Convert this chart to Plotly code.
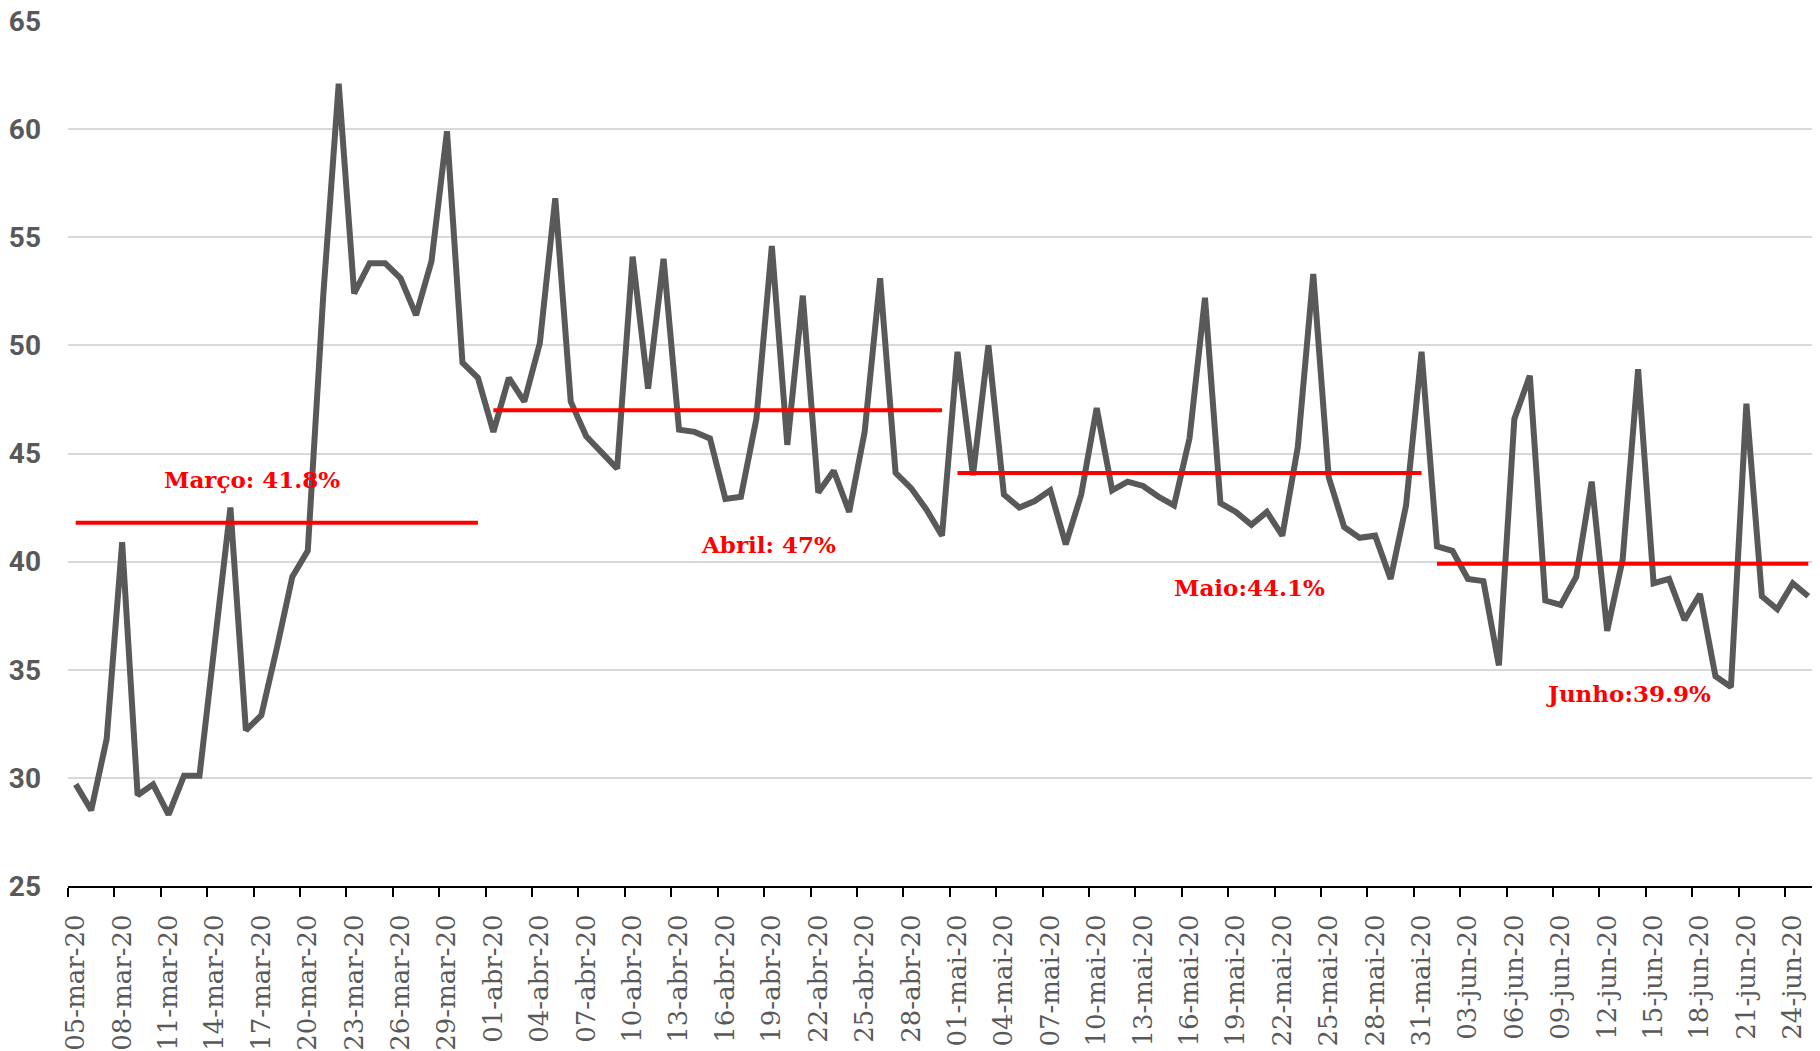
import plotly.graph_objects as go

# Category labels: daily dates from 05-mar-20 to 25-jun-20
months = [("mar", 5, 31), ("abr", 1, 30), ("mai", 1, 31), ("jun", 1, 25)]
dates = [f"{d:02d}-{m}-20" for m, a, b in months for d in range(a, b + 1)]

# Daily values (%)
marco = [29.7, 28.5, 31.8, 40.9, 29.2, 29.7, 28.3, 30.1, 30.1, 36.1, 42.5, 32.2, 32.9, 36.0,
         39.3, 40.5, 52.3, 62.1, 52.4, 53.8, 53.8, 53.1, 51.4, 53.9, 59.9, 49.2, 48.5]
abril = [46.0, 48.5, 47.4, 50.1, 56.8, 47.4, 45.8, 45.0, 44.3, 54.1, 48.0, 54.0, 46.1, 46.0,
         45.7, 42.9, 43.0, 46.6, 54.6, 45.4, 52.3, 43.2, 44.2, 42.3, 46.0, 53.1, 44.1, 43.4,
         42.4, 41.2]
maio = [49.7, 44.0, 50.0, 43.1, 42.5, 42.8, 43.3, 40.8, 43.1, 47.1, 43.3, 43.7, 43.5, 43.0,
        42.6, 45.7, 52.2, 42.7, 42.3, 41.7, 42.3, 41.2, 45.3, 53.3, 43.9, 41.6, 41.1, 41.2,
        39.2, 42.6, 49.7]
junho = [40.7, 40.5, 39.2, 39.1, 35.2, 46.6, 48.6, 38.2, 38.0, 39.3, 43.7, 36.8, 40.1, 48.9,
         39.0, 39.2, 37.3, 38.5, 34.7, 34.2, 47.3, 38.4, 37.8, 39.0, 38.4]

month_series = [marco, abril, maio, junho]
month_avg = [41.8, 47.0, 44.1, 39.9]
month_labels = ["Março: 41.8%", "Abril: 47%", "Maio:44.1%", "Junho:39.9%"]
label_pos = [(11.4, 43.8), (44.8, 40.8), (75.9, 38.8), (100.4, 33.9)]

values = [v for s in month_series for v in s]
x = list(range(len(dates)))

fig = go.Figure()
fig.add_trace(go.Scatter(x=x, y=values, mode="lines",
                         line=dict(color="#595959", width=6), hoverinfo="skip",
                         showlegend=False))

start = 0
for s, avg in zip(month_series, month_avg):
    end = start + len(s) - 1
    fig.add_trace(go.Scatter(x=[x[start], x[end]], y=[avg, avg], mode="lines",
                             line=dict(color="#ff0000", width=4), showlegend=False,
                             hoverinfo="skip"))
    start = end + 1

for txt, (ax, ay) in zip(month_labels, label_pos):
    fig.add_annotation(x=ax, y=ay, xref="x", yref="y", text=txt, showarrow=False,
                       font=dict(family="DejaVu Serif", size=23, color="#ff0000", weight="bold"))

tick_idx = x[::3]
fig.update_layout(
    width=1812, height=1043,
    margin=dict(l=60, r=4, t=13, b=165, autoexpand=False),
    plot_bgcolor="white", paper_bgcolor="white",
    xaxis=dict(
        range=[-0.5, len(dates) - 0.5], automargin=False,
        tickmode="array", tickvals=tick_idx, ticktext=[dates[i] for i in tick_idx],
        tickangle=-90, ticks="", showgrid=False, zeroline=False,
        showline=True, linecolor="black", linewidth=2,
        tickfont=dict(family="DejaVu Serif", size=26, color="#595959"),
        ticklabelstandoff=16,
        minor=dict(tickvals=[i - 0.5 for i in tick_idx], ticks="outside", ticklen=9,
                   tickwidth=2, tickcolor="black", showgrid=False),
    ),
    yaxis=dict(
        range=[25, 65], dtick=5, tick0=25, showgrid=True, gridcolor="#d9d9d9",
        gridwidth=1.5, zeroline=False, showline=False, ticks="", automargin=False,
        tickfont=dict(family="Roboto", size=28, color="#595959", weight="bold"),
        ticklabelstandoff=26, ticklabeloverflow="allow",
    ),
)

fig.write_html("out.html")
